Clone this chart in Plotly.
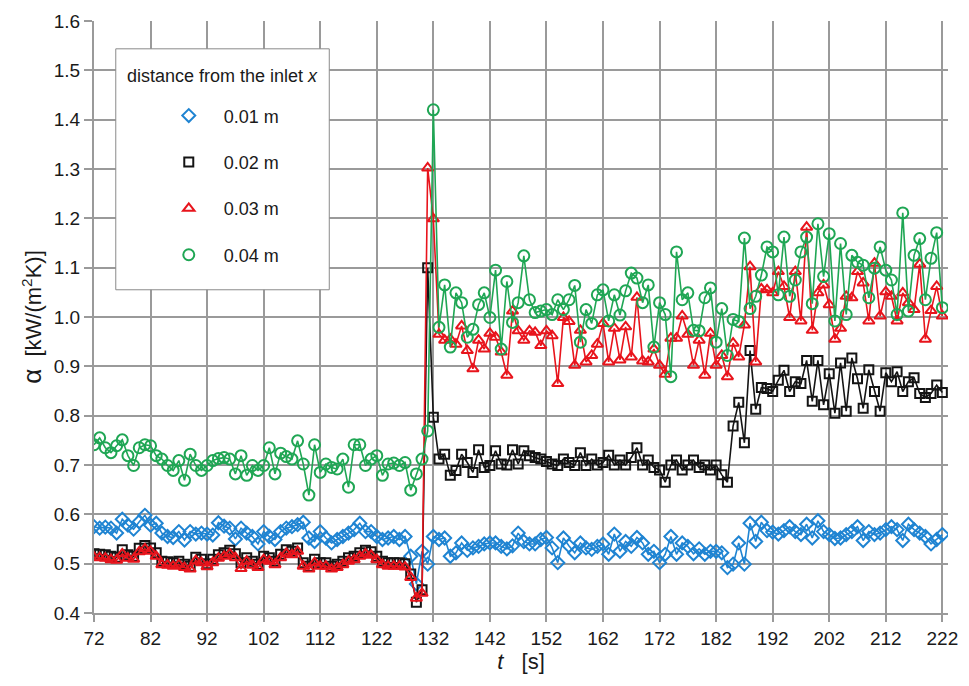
import plotly.graph_objects as go

# Time axis [s], one sample per second
t = list(range(72, 223))

# Heat transfer coefficient alpha [kW/(m2K)] at four distances from the inlet
alpha_001 = [
    0.575, 0.572, 0.574, 0.572, 0.562, 0.590, 0.578, 0.570, 0.585, 0.598,
    0.578, 0.582, 0.562, 0.555, 0.553, 0.565, 0.548, 0.565, 0.560, 0.562,
    0.560, 0.558, 0.583, 0.576, 0.572, 0.550, 0.572, 0.562, 0.555, 0.540,
    0.565, 0.555, 0.549, 0.565, 0.572, 0.575, 0.579, 0.584, 0.552, 0.545,
    0.565, 0.552, 0.542, 0.549, 0.555, 0.562, 0.569, 0.582, 0.565, 0.565,
    0.555, 0.549, 0.552, 0.555, 0.549, 0.555, 0.515, 0.459, 0.525, 0.499,
    0.555, 0.549, 0.552, 0.515, 0.522, 0.542, 0.527, 0.532, 0.535, 0.540,
    0.542, 0.542, 0.535, 0.530, 0.536, 0.562, 0.545, 0.540, 0.540, 0.549,
    0.553, 0.532, 0.502, 0.552, 0.536, 0.522, 0.542, 0.532, 0.529, 0.535,
    0.540, 0.519, 0.560, 0.525, 0.545, 0.535, 0.553, 0.542, 0.519, 0.525,
    0.502, 0.519, 0.555, 0.519, 0.542, 0.535, 0.520, 0.530, 0.519, 0.525,
    0.525, 0.522, 0.492, 0.499, 0.542, 0.499, 0.582, 0.545, 0.584, 0.567,
    0.564, 0.560, 0.567, 0.575, 0.565, 0.559, 0.580, 0.552, 0.587, 0.565,
    0.559, 0.551, 0.552, 0.559, 0.565, 0.575, 0.547, 0.565, 0.559, 0.562,
    0.569, 0.575, 0.569, 0.547, 0.580, 0.569, 0.562, 0.555, 0.540, 0.549,
    0.559,
]

alpha_002 = [
    0.520, 0.519, 0.518, 0.515, 0.513, 0.528, 0.518, 0.515, 0.531, 0.537,
    0.532, 0.522, 0.505, 0.504, 0.502, 0.505, 0.499, 0.495, 0.513, 0.509,
    0.500, 0.509, 0.518, 0.522, 0.527, 0.520, 0.502, 0.512, 0.505, 0.499,
    0.515, 0.512, 0.505, 0.519, 0.528, 0.525, 0.532, 0.502, 0.495, 0.509,
    0.502, 0.502, 0.495, 0.499, 0.505, 0.512, 0.515, 0.522, 0.527, 0.524,
    0.515, 0.505, 0.502, 0.502, 0.502, 0.500, 0.479, 0.422, 0.447, 1.100,
    0.797, 0.712, 0.722, 0.679, 0.689, 0.722, 0.705, 0.685, 0.731, 0.695,
    0.699, 0.729, 0.702, 0.700, 0.731, 0.702, 0.729, 0.719, 0.715, 0.712,
    0.707, 0.702, 0.699, 0.712, 0.705, 0.699, 0.725, 0.699, 0.712, 0.700,
    0.705, 0.720, 0.700, 0.710, 0.700, 0.715, 0.735, 0.700, 0.710, 0.695,
    0.690, 0.665, 0.700, 0.710, 0.690, 0.700, 0.710, 0.695, 0.700, 0.690,
    0.700, 0.680, 0.665, 0.779, 0.827, 0.745, 0.932, 0.813, 0.857, 0.855,
    0.849, 0.872, 0.892, 0.849, 0.869, 0.865, 0.912, 0.829, 0.912, 0.822,
    0.885, 0.805, 0.907, 0.809, 0.917, 0.875, 0.815, 0.893, 0.849, 0.809,
    0.887, 0.869, 0.889, 0.849, 0.869, 0.877, 0.845, 0.837, 0.845, 0.862,
    0.847,
]

alpha_003 = [
    0.513, 0.512, 0.511, 0.508, 0.507, 0.520, 0.511, 0.509, 0.524, 0.530,
    0.525, 0.515, 0.498, 0.497, 0.495, 0.498, 0.492, 0.489, 0.506, 0.502,
    0.494, 0.502, 0.511, 0.515, 0.520, 0.512, 0.490, 0.505, 0.497, 0.492,
    0.508, 0.505, 0.498, 0.512, 0.521, 0.518, 0.525, 0.495, 0.489, 0.502,
    0.495, 0.495, 0.489, 0.492, 0.498, 0.505, 0.508, 0.515, 0.520, 0.517,
    0.508, 0.498, 0.495, 0.495, 0.495, 0.493, 0.472, 0.430, 0.440, 1.302,
    1.199, 0.965, 0.953, 0.955, 0.945, 0.982, 0.932, 0.895, 0.953, 0.935,
    0.967, 0.959, 0.929, 0.882, 1.012, 0.972, 0.953, 0.972, 0.969, 0.942,
    0.972, 0.962, 0.865, 0.999, 0.991, 0.902, 0.973, 0.909, 0.922, 0.945,
    0.987, 0.909, 0.977, 0.913, 0.980, 0.919, 1.040, 0.911, 0.909, 0.935,
    0.902, 0.884, 0.957, 0.957, 1.002, 0.965, 0.902, 0.953, 0.882, 0.967,
    0.902, 0.922, 0.879, 0.947, 0.919, 0.984, 1.102, 0.909, 1.057, 1.055,
    1.049, 1.092, 1.062, 0.999, 1.092, 0.992, 1.182, 0.973, 1.049, 1.065,
    1.025, 0.955, 0.977, 1.042, 1.039, 1.092, 1.069, 0.992, 1.109, 1.002,
    1.051, 1.042, 0.992, 1.049, 1.029, 1.015, 1.107, 0.955, 1.013, 1.062,
    1.002,
]

alpha_004 = [
    0.741, 0.755, 0.735, 0.725, 0.739, 0.751, 0.719, 0.699, 0.735, 0.741,
    0.739, 0.719, 0.712, 0.699, 0.689, 0.709, 0.669, 0.722, 0.699, 0.689,
    0.699, 0.709, 0.713, 0.715, 0.712, 0.682, 0.719, 0.679, 0.699, 0.689,
    0.699, 0.735, 0.682, 0.724, 0.717, 0.712, 0.749, 0.702, 0.639, 0.741,
    0.685, 0.702, 0.695, 0.692, 0.712, 0.655, 0.741, 0.741, 0.699, 0.712,
    0.719, 0.679, 0.702, 0.704, 0.699, 0.705, 0.649, 0.682, 0.712, 0.769,
    1.420, 0.979, 1.065, 0.939, 1.049, 1.029, 0.959, 0.975, 1.025, 1.049,
    0.999, 1.095, 0.935, 1.072, 0.989, 1.029, 1.124, 1.035, 1.009, 1.012,
    1.015, 1.005, 1.035, 1.015, 1.035, 1.064, 0.949, 1.015, 0.987, 1.045,
    1.055, 0.992, 1.045, 1.004, 1.053, 1.089, 1.079, 1.029, 1.065, 0.939,
    1.029, 1.005, 0.879, 1.132, 1.035, 1.049, 0.973, 0.972, 1.039, 1.059,
    0.949, 1.017, 0.922, 0.995, 0.991, 1.160, 1.017, 1.042, 1.085, 1.142,
    1.132, 1.045, 1.162, 1.042, 1.075, 1.132, 1.162, 1.027, 1.189, 1.082,
    1.169, 0.992, 1.149, 1.005, 1.125, 1.111, 1.105, 1.039, 1.099, 1.142,
    1.095, 1.075, 1.005, 1.211, 1.012, 1.125, 1.159, 1.035, 1.119, 1.171,
    1.019,
]

series_names = ["0.01 m", "0.02 m", "0.03 m", "0.04 m"]
series_values = [alpha_001, alpha_002, alpha_003, alpha_004]
series_colors = ["#1f84d2", "#141414", "#e8141c", "#1fa654"]
series_symbols = ["diamond-open", "square-open", "triangle-up-open", "circle-open"]
series_sizes = [10, 9, 10, 11]

x_ticks = list(range(72, 223, 10))
y_ticks = [round(0.4 + 0.1 * i, 1) for i in range(13)]

FONT = "Liberation Sans, Arial, sans-serif"
GRID = "#9a9a9a"

fig = go.Figure()
for name, vals, col, sym, size in zip(series_names, series_values,
                                      series_colors, series_symbols, series_sizes):
    # connecting line (kept out of the legend)
    fig.add_trace(go.Scatter(
        x=t, y=vals, mode="lines", name=name, legendgroup=name,
        showlegend=False, line=dict(color=col, width=1.6),
        hoverinfo="skip",
    ))
    # open markers (shown in the legend)
    fig.add_trace(go.Scatter(
        x=t, y=vals, mode="markers", name=name, legendgroup=name,
        marker=dict(symbol=sym, size=size, color=col, line=dict(color=col, width=2)),
    ))

# legend frame and heading
fig.add_shape(
    type="rect", xref="paper", yref="paper",
    x0=0.0255, x1=0.2755, y0=0.546, y1=0.953,
    fillcolor="white", line=dict(color="#8a8a8a", width=1), layer="above",
)
fig.add_annotation(
    text="distance from the inlet <i>x</i>", xref="paper", yref="paper",
    x=0.036, y=0.907, xanchor="left", yanchor="middle", showarrow=False,
    font=dict(size=18, family=FONT, color="#1a1a1a"),
)

fig.update_layout(
    width=969, height=686,
    margin=dict(l=94, r=11, t=12, b=73),
    paper_bgcolor="white", plot_bgcolor="white",
    font=dict(family=FONT, size=19, color="#1a1a1a"),
    legend=dict(
        font=dict(size=18),
        x=0.0255, y=0.871, xanchor="left", yanchor="top",
        bgcolor="rgba(0,0,0,0)", borderwidth=0,
        itemwidth=60, indentation=38, tracegroupgap=20,
    ),
    xaxis=dict(
        range=[72, 223], tickvals=x_ticks, ticktext=[str(v) for v in x_ticks],
        showgrid=True, gridcolor=GRID, gridwidth=2,
        showline=True, linecolor=GRID, linewidth=2,
        ticks="outside", ticklen=7, tickwidth=2, tickcolor=GRID,
        zeroline=False, tickfont=dict(size=19),
        title=dict(text="<i>t</i>   [s]", font=dict(size=22), standoff=6),
    ),
    yaxis=dict(
        range=[0.4, 1.6], tickvals=y_ticks, tickformat=".1f",
        showgrid=True, gridcolor=GRID, gridwidth=2,
        showline=True, linecolor=GRID, linewidth=2,
        ticks="outside", ticklen=8, tickwidth=2, tickcolor=GRID,
        zeroline=False, tickfont=dict(size=19),
        title=dict(text="<span style='font-size:26px'>α</span>  [kW/(m<sup>2</sup>K)]",
                   font=dict(size=22), standoff=6),
    ),
)

fig.write_html("out.html")
